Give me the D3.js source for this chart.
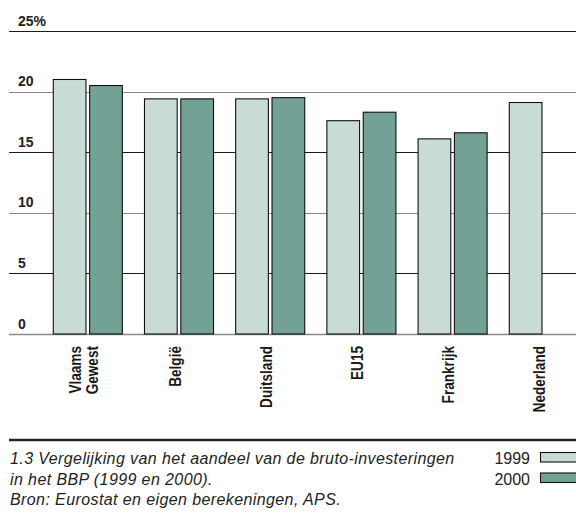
<!DOCTYPE html>
<html><head><meta charset="utf-8">
<script src="https://cdn.jsdelivr.net/npm/d3@7"></script>
<style>
html,body{margin:0;padding:0;background:#fff;}
svg{display:block;}
</style></head>
<body>
<script>
// ---- data ----
const categories = [["Vlaams","Gewest"],["België"],["Duitsland"],["EU15"],["Frankrijk"],["Nederland"]];
const years = ["1999","2000"];
const values1999 = [21.0, 19.4, 19.4, 17.6, 16.1, 19.1];
const values2000 = [20.5, 19.4, 19.5, 18.3, 16.6, null];
const tickValues = [0, 5, 10, 15, 20, 25];
const tickLabels = ["0", "5", "10", "15", "20", "25%"];
const captionLines = [
  "1.3 Vergelijking van het aandeel van de bruto-investeringen",
  "in het BBP (1999 en 2000).",
  "Bron: Eurostat en eigen berekeningen, APS."
];
const colors = {"1999": "#c8dbd6", "2000": "#73a195"};

const W = 576, H = 521;
const svg = d3.select("body").append("svg").attr("width", W).attr("height", H);

const y = d3.scaleLinear().domain([0, 25]).range([334, 31]);
const catKeys = categories.map(c => c.join(" "));
const x = d3.scaleBand().domain(catKeys).range([42.2, 589.4]).paddingInner(0.243).paddingOuter(0.1215);
const xs = d3.scaleBand().domain(years).range([0, x.bandwidth()]).paddingInner(0.1);

// gridlines
const grid = svg.append("g");
tickValues.forEach((t, i) => {
  const dark = (t % 10 !== 0);
  grid.append("line")
    .attr("x1", 9).attr("x2", W)
    .attr("y1", Math.round(y(t)) + 0.5).attr("y2", Math.round(y(t)) + 0.5)
    .attr("stroke", dark ? "#1a1a1a" : "#8a8a8a")
    .attr("stroke-width", t === 0 ? 1.6 : 1.2);
  grid.append("text")
    .attr("x", 18).attr("y", y(t) - 5.5)
    .attr("font-family", "'Liberation Sans', Arial, sans-serif")
    .attr("font-weight", "bold").attr("font-size", 14)
    .attr("fill", "#222")
    .text(tickLabels[i]);
});

// bars
const rows = [];
catKeys.forEach((c, i) => {
  rows.push({cat: c, year: "1999", v: values1999[i]});
  if (values2000[i] != null) rows.push({cat: c, year: "2000", v: values2000[i]});
});
svg.append("g").selectAll("rect").data(rows).join("rect")
  .attr("x", d => x(d.cat) + xs(d.year))
  .attr("y", d => y(d.v))
  .attr("width", xs.bandwidth())
  .attr("height", d => y(0) - y(d.v))
  .attr("fill", d => colors[d.year])
  .attr("stroke", "#111").attr("stroke-width", 1.1);

// category labels (rotated, condensed)
categories.forEach((lines, i) => {
  const cx = x(catKeys[i]) + x.bandwidth() / 2;
  const n = lines.length;
  lines.forEach((ln, j) => {
    const bx = cx + 1.5 + (j - (n - 1) / 2) * 17.6;
    svg.append("text")
      .attr("transform", `translate(${bx},346) rotate(-90) scale(0.8,1)`)
      .attr("text-anchor", "end")
      .attr("font-family", "'Liberation Sans', Arial, sans-serif")
      .attr("font-weight", "bold").attr("font-size", 17)
      .attr("fill", "#1a1a1a")
      .text(ln);
  });
});

// footer rule
svg.append("line").attr("x1", 9).attr("x2", W).attr("y1", 440).attr("y2", 440)
  .attr("stroke", "#222").attr("stroke-width", 2.5);

// caption
captionLines.forEach((t, i) => {
  svg.append("text")
    .attr("x", 10).attr("y", 464 + i * 20.5)
    .attr("font-family", "'Liberation Sans', Arial, sans-serif")
    .attr("font-style", "italic").attr("font-size", 16)
    .attr("letter-spacing", 0.4)
    .attr("fill", "#222")
    .text(t);
});

// legend
years.forEach((yr, i) => {
  const by = 464 + i * 20.5;
  svg.append("text")
    .attr("x", 530).attr("y", by).attr("text-anchor", "end")
    .attr("font-family", "'Liberation Sans', Arial, sans-serif")
    .attr("font-size", 16).attr("fill", "#222").text(yr);
  svg.append("rect")
    .attr("x", 540.5).attr("y", by - 11.5).attr("width", 40).attr("height", 9.5)
    .attr("fill", colors[yr]).attr("stroke", "#111").attr("stroke-width", 1.1);
});
</script>
</body></html>
